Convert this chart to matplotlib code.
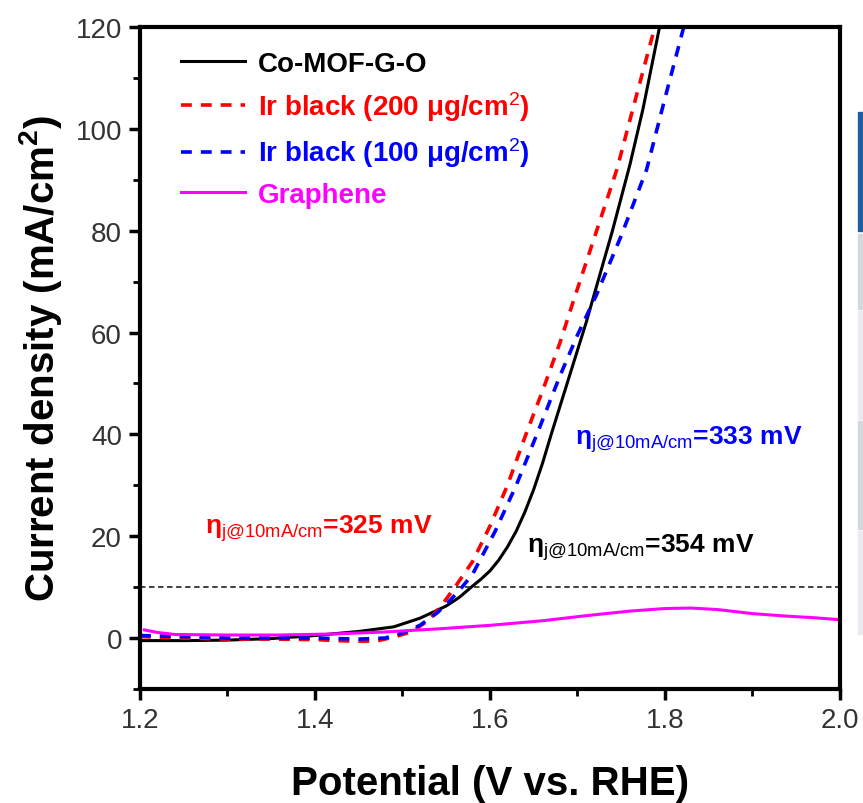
import matplotlib
matplotlib.use('Agg')
import matplotlib.pyplot as plt
from matplotlib.patches import Rectangle
from matplotlib.ticker import MultipleLocator

plt.rcParams['font.family'] = ['Liberation Sans', 'DejaVu Sans']
plt.rcParams['mathtext.fontset'] = 'custom'
plt.rcParams['mathtext.rm'] = 'Liberation Sans'
plt.rcParams['mathtext.it'] = 'Liberation Sans:italic'
plt.rcParams['mathtext.bf'] = 'Liberation Sans:bold'

# LSV curves (potential in V vs. RHE, current density in mA/cm2)
co_mof_x = [1.20, 1.25, 1.30, 1.35, 1.40, 1.45, 1.49, 1.52, 1.55, 1.565, 1.58, 1.59,
            1.60, 1.61, 1.62, 1.63, 1.64, 1.65, 1.66, 1.67, 1.69, 1.71, 1.72, 1.74,
            1.76, 1.775, 1.795]
co_mof_y = [-0.5, -0.5, -0.4, -0.1, 0.5, 1.3, 2.2, 3.9, 6.3, 8.0, 10.2, 11.6,
            13.2, 15.3, 17.9, 21.0, 24.8, 29.2, 34.3, 40, 51, 62, 68, 80,
            93, 104, 121]

ir200_x = [1.20, 1.25, 1.30, 1.35, 1.40, 1.44, 1.47, 1.49, 1.51, 1.53, 1.545, 1.56,
           1.58, 1.60, 1.62, 1.64, 1.66, 1.68, 1.695, 1.72, 1.745, 1.765, 1.79]
ir200_y = [0.3, 0.0, -0.2, -0.2, -0.3, -0.6, -0.6, 0.2, 1.2, 3.5, 6.5, 10,
           15, 22, 30, 39.5, 48.5, 58, 66, 79, 92, 105, 121]

ir100_x = [1.20, 1.25, 1.30, 1.35, 1.40, 1.45, 1.48, 1.50, 1.52, 1.54, 1.555, 1.568,
           1.58, 1.606, 1.63, 1.655, 1.68, 1.70, 1.722, 1.75, 1.779, 1.80, 1.823]
ir100_y = [0.5, 0.3, 0.0, 0.0, 0.0, -0.2, 0.0, 1.0, 2.5, 5.0, 7.5, 10,
           12.5, 21, 30, 40.6, 51.5, 59.5, 67.5, 79, 92, 106, 121]

graphene_x = [1.205, 1.22, 1.24, 1.30, 1.36, 1.42, 1.48, 1.54, 1.60, 1.66, 1.71,
              1.76, 1.80, 1.83, 1.86, 1.90, 1.94, 1.97, 2.0]
graphene_y = [1.6, 1.1, 0.7, 0.6, 0.6, 0.8, 1.2, 1.8, 2.5, 3.4, 4.4,
              5.3, 5.8, 5.9, 5.6, 4.8, 4.3, 4.0, 3.6]

labels = ['Co-MOF-G-O', r'Ir black (200 μg/cm$^{2}$)', r'Ir black (100 μg/cm$^{2}$)', 'Graphene']
ref_current = 10  # mA/cm2 reference line
overpotentials = {'red': 325, 'blue': 333, 'black': 354}

fig = plt.figure(figsize=(8.63, 8.04), dpi=100)
ax = fig.add_axes([0.1622, 0.1418, 0.8111, 0.8234])

ax.plot(co_mof_x, co_mof_y, color='black', lw=2.2, label=labels[0])
ax.plot(ir200_x, ir200_y, color='#ff0000', lw=2.6, ls=(0, (3, 2.5)), label=labels[1])
ax.plot(ir100_x, ir100_y, color='#0000ff', lw=2.6, ls=(0, (3, 2.5)), label=labels[2])
ax.plot(graphene_x, graphene_y, color='#ff00ff', lw=2.2, label=labels[3])
ax.axhline(ref_current, color='#333333', lw=1.3, ls=(0, (3, 2)))

ax.set_xlim(1.2, 2.0)
ax.set_ylim(-10, 120)
ax.set_xticks([1.2, 1.4, 1.6, 1.8, 2.0])
ax.set_xticklabels(['1.2', '1.4', '1.6', '1.8', '2.0'])
ax.xaxis.set_minor_locator(MultipleLocator(0.1))
ax.yaxis.set_major_locator(MultipleLocator(20))
ax.yaxis.set_minor_locator(MultipleLocator(10))

for s in ax.spines.values():
    s.set_linewidth(3)
ax.tick_params(which='major', direction='out', length=8, width=2.5,
               labelsize=20, labelcolor='#333333', pad=5)
ax.tick_params(which='minor', direction='out', length=5, width=2)

ax.set_xlabel('Potential (V vs. RHE)', fontsize=29, fontweight='bold', labelpad=22)
ax.set_ylabel(r'Current density (mA/cm$\mathbf{^{2}}$)', fontsize=29, fontweight='bold', labelpad=8)

leg = ax.legend(loc='upper left', bbox_to_anchor=(0.059, 0.964), frameon=False,
                handlelength=2.3, handletextpad=0.45, labelspacing=0.45,
                borderpad=0, borderaxespad=0,
                labelcolor='linecolor', prop={'weight': 'bold', 'size': 20})

note = r'$\mathbf{\eta}_{\mathrm{j@10mA/cm}}$=%d mV'
ax.text(1.274, 21.6, note % overpotentials['red'],
        color='#ff0000', fontsize=19, fontweight='bold', va='center')
ax.text(1.697, 39.2, note % overpotentials['blue'],
        color='#0000ff', fontsize=19, fontweight='bold', va='center')
ax.text(1.642, 18.0, note % overpotentials['black'],
        color='black', fontsize=19, fontweight='bold', va='center')

# bits of a neighbouring table cut off at the right edge of the screenshot
W, H = 863, 804
fig.patches.append(Rectangle((858 / W, 1 - 232 / H), 5 / W, 119 / H,
                             transform=fig.transFigure, color='#1f5f9e', zorder=0))
for top, bot, c in [(235, 310, '#d4d8de'), (312, 420, '#e8eaee'),
                    (422, 530, '#d4d8de'), (532, 635, '#e8eaee')]:
    fig.patches.append(Rectangle((858 / W, 1 - bot / H), 5 / W, (bot - top) / H,
                                 transform=fig.transFigure, color=c, zorder=0))

fig.savefig('out.png', dpi=100)
